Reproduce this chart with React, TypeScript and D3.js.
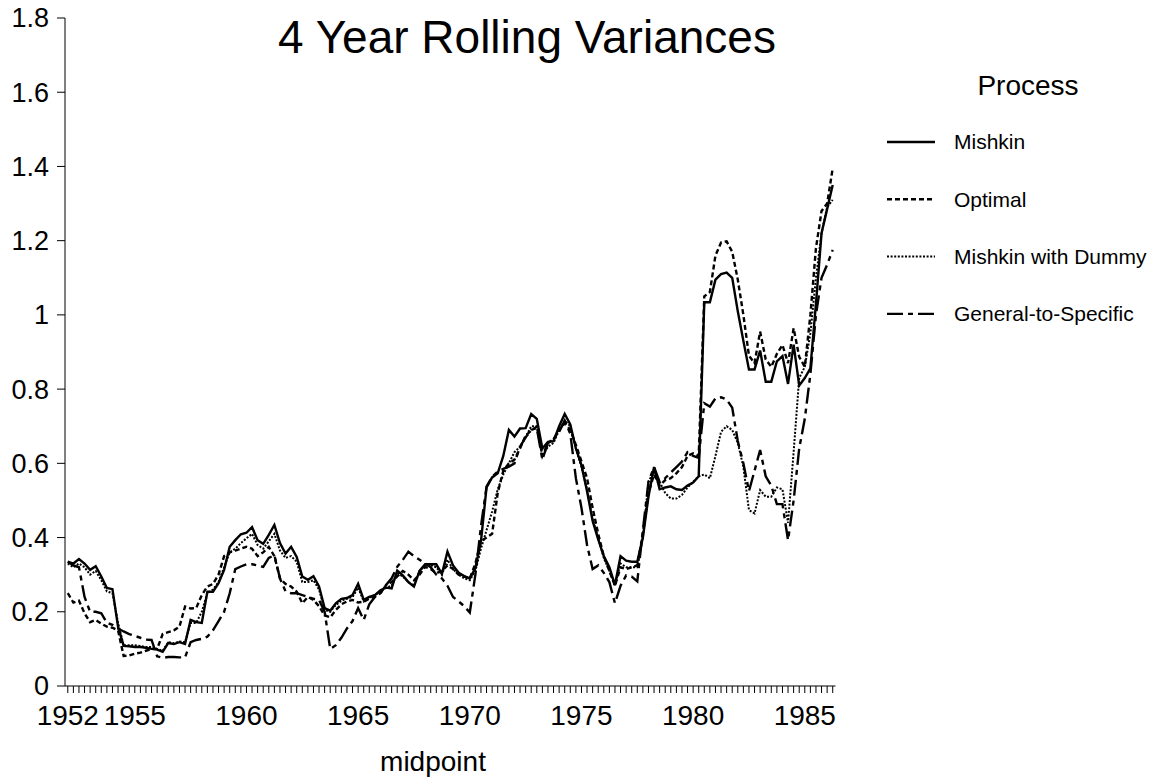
import React from 'react';
import * as d3 from 'd3';

// quarterly midpoints, 1952Q1 .. 1986Q2
const quarters = d3.range(138).map(i => `${1952 + Math.floor(i / 4)}Q${(i % 4) + 1}`);

const tickLabels = ['1952', '1955', '1960', '1965', '1970', '1975', '1980', '1985'];
const tickQuarters = ['1952Q1', '1955Q1', '1960Q1', '1965Q1', '1970Q1', '1975Q1', '1980Q1', '1985Q1'];

const yTicks = [0, 0.2, 0.4, 0.6, 0.8, 1, 1.2, 1.4, 1.6, 1.8];

const mishkin = [
  0.335, 0.33, 0.342, 0.33, 0.313, 0.323, 0.295, 0.264, 0.261, 0.16,
  0.108, 0.107, 0.105, 0.105, 0.103, 0.1, 0.098, 0.092, 0.116, 0.113,
  0.118, 0.113, 0.178, 0.172, 0.17, 0.254, 0.254, 0.277, 0.313, 0.375,
  0.393, 0.409, 0.413, 0.428, 0.393, 0.383, 0.407, 0.434, 0.385, 0.357,
  0.375, 0.348, 0.295, 0.286, 0.296, 0.268, 0.21, 0.203, 0.223, 0.235,
  0.237, 0.245, 0.275, 0.232, 0.24, 0.245, 0.258, 0.265, 0.263, 0.311,
  0.298, 0.28, 0.268, 0.31, 0.328, 0.328, 0.328, 0.302, 0.362, 0.325,
  0.305, 0.296, 0.29, 0.318, 0.39, 0.535, 0.562, 0.573, 0.62, 0.69,
  0.672, 0.694, 0.695, 0.733, 0.72, 0.64, 0.658, 0.66, 0.7, 0.733,
  0.705, 0.64, 0.595, 0.525, 0.445, 0.395, 0.35, 0.32, 0.272, 0.35,
  0.338, 0.335, 0.335, 0.4, 0.51, 0.59, 0.53, 0.535, 0.538, 0.53,
  0.528, 0.54, 0.548, 0.565, 1.034, 1.034, 1.095, 1.11, 1.114, 1.1,
  1.01, 0.93, 0.853, 0.853, 0.904, 0.82, 0.82, 0.875, 0.889, 0.814,
  0.92, 0.81, 0.83, 0.856, 1.03, 1.22, 1.285, 1.35
];

const optimal = [
  0.25, 0.225, 0.23, 0.196, 0.172, 0.178, 0.168, 0.16, 0.157, 0.15,
  0.081, 0.082, 0.087, 0.09, 0.095, 0.1, 0.1, 0.14, 0.145, 0.15,
  0.16, 0.214, 0.209, 0.21, 0.245, 0.268, 0.275, 0.3, 0.35, 0.36,
  0.365, 0.37, 0.375, 0.37, 0.35, 0.36, 0.375, 0.35, 0.29, 0.275,
  0.268, 0.254, 0.223, 0.24, 0.232, 0.215, 0.19, 0.185, 0.205, 0.22,
  0.228, 0.232, 0.225, 0.227, 0.235, 0.241, 0.25, 0.272, 0.28, 0.295,
  0.31, 0.3, 0.285, 0.3, 0.321, 0.315, 0.304, 0.31, 0.325, 0.315,
  0.3, 0.295, 0.29, 0.33, 0.39, 0.4, 0.41, 0.52, 0.58, 0.6,
  0.61, 0.64, 0.675, 0.688, 0.699, 0.62, 0.655, 0.665, 0.69, 0.708,
  0.69, 0.65, 0.605, 0.56, 0.48, 0.41, 0.35, 0.31, 0.27, 0.32,
  0.315, 0.32, 0.325, 0.41, 0.52, 0.57, 0.54, 0.555, 0.56, 0.573,
  0.59, 0.62, 0.627, 0.62, 1.05, 1.062, 1.16, 1.195, 1.198, 1.17,
  1.095, 1.0, 0.89, 0.87, 0.955, 0.88, 0.86, 0.895, 0.919, 0.87,
  0.964, 0.887, 0.86, 1.0, 1.18, 1.28, 1.3, 1.395
];

const mishkinDummy = [
  0.33, 0.32, 0.33, 0.32, 0.3, 0.31, 0.285, 0.255, 0.25, 0.17,
  0.11, 0.11, 0.11, 0.108, 0.105, 0.105, 0.1, 0.095, 0.118, 0.115,
  0.12, 0.118, 0.17, 0.17, 0.2, 0.25, 0.26, 0.28, 0.32, 0.36,
  0.37, 0.385, 0.398, 0.41, 0.38, 0.37, 0.39, 0.41, 0.365, 0.345,
  0.35, 0.335, 0.28, 0.28, 0.285, 0.26, 0.205, 0.2, 0.218, 0.23,
  0.235, 0.24, 0.265, 0.228, 0.238, 0.245, 0.255, 0.265, 0.27, 0.305,
  0.295, 0.28, 0.27, 0.31, 0.325, 0.325, 0.32, 0.3, 0.34, 0.315,
  0.3, 0.29, 0.285, 0.31, 0.37, 0.42, 0.47, 0.53, 0.57, 0.6,
  0.63, 0.645, 0.67, 0.7, 0.7, 0.62, 0.645, 0.655, 0.69, 0.715,
  0.7, 0.64, 0.59, 0.53, 0.45, 0.4, 0.345, 0.31, 0.27, 0.33,
  0.32, 0.32, 0.32, 0.4, 0.55, 0.58, 0.55, 0.52, 0.505, 0.505,
  0.515, 0.535, 0.55, 0.565, 0.57, 0.56, 0.62, 0.685, 0.7, 0.69,
  0.655, 0.59, 0.474, 0.465, 0.528, 0.51, 0.51, 0.535, 0.53, 0.44,
  0.63, 0.83, 0.86, 0.95, 1.1, 1.22, 1.29, 1.31
];

const generalToSpecific = [
  0.335, 0.325, 0.32, 0.24, 0.2, 0.2, 0.196, 0.17, 0.165, 0.155,
  0.147, 0.14, 0.135, 0.13, 0.125, 0.124, 0.08, 0.076, 0.078, 0.078,
  0.077, 0.077, 0.118, 0.124, 0.127, 0.133, 0.15, 0.175, 0.2, 0.25,
  0.315, 0.322, 0.328, 0.328, 0.325, 0.321, 0.345, 0.353, 0.29, 0.255,
  0.25, 0.25, 0.245, 0.24, 0.235, 0.232, 0.2, 0.1, 0.11, 0.13,
  0.155, 0.175, 0.21, 0.178, 0.22, 0.24, 0.25, 0.272, 0.29, 0.321,
  0.34, 0.362, 0.35, 0.34, 0.33, 0.32, 0.3, 0.29, 0.27, 0.24,
  0.228, 0.215, 0.198, 0.3, 0.43, 0.537, 0.564, 0.578, 0.585, 0.591,
  0.6, 0.645, 0.67, 0.69, 0.695, 0.61, 0.655, 0.665, 0.685, 0.715,
  0.68, 0.56, 0.48, 0.38, 0.315, 0.325, 0.305, 0.28, 0.223, 0.27,
  0.298, 0.295, 0.282, 0.42, 0.55, 0.59, 0.55, 0.56, 0.575, 0.59,
  0.605, 0.63, 0.62, 0.615, 0.762, 0.753, 0.775, 0.778, 0.772, 0.75,
  0.66, 0.6, 0.525, 0.58, 0.636, 0.565, 0.54, 0.49, 0.49, 0.393,
  0.5, 0.64, 0.72, 0.84, 1.0, 1.1, 1.135, 1.175
];

const seriesNames = ['Mishkin', 'Optimal', 'Mishkin with Dummy', 'General-to-Specific'];
const seriesValues = [mishkin, optimal, mishkinDummy, generalToSpecific];
const seriesDash = [null, '5,3', '2,1.6', '16,5,5,5'];
const seriesWidth = [2.4, 2.4, 2, 2.4];

const FONT = 'Liberation Sans, Arial, Helvetica, sans-serif';

export default function App() {
  const width = 1162;
  const height = 783;
  const left = 65;
  const right = 835.5;
  const top = 18;
  const bottom = 686;

  const x = d3.scalePoint<string>().domain(quarters).range([left, right]).padding(0.5);
  const y = d3.scaleLinear().domain([0, 1.8]).range([bottom, top]);

  const line = d3.line<number>()
    .x((d, i) => x(quarters[i]) as number)
    .y(d => y(d));

  return (
    <svg width={width} height={height} style={{ position: 'absolute', left: 0, top: 0, background: '#fff' }}
      fontFamily={FONT}>
      <text x={527} y={53} textAnchor="middle" fontSize={46}>4 Year Rolling Variances</text>

      {/* y axis */}
      <line x1={left} x2={left} y1={top} y2={bottom} stroke="#000" strokeWidth={1} />
      {yTicks.map(t => (
        <g key={t}>
          <line x1={left - 8} x2={left} y1={y(t)} y2={y(t)} stroke="#000" />
          <text x={left - 16} y={y(t)} dy="0.35em" textAnchor="end" fontSize={27}>{d3.format('~g')(t)}</text>
        </g>
      ))}

      {/* x axis */}
      <line x1={left} x2={right} y1={bottom} y2={bottom} stroke="#000" strokeWidth={1} />
      {quarters.map(q => (
        <line key={q} x1={x(q)} x2={x(q)} y1={bottom} y2={bottom + 7} stroke="#000" strokeWidth={1} />
      ))}
      {tickQuarters.map((q, i) => (
        <text key={q} x={x(q)} y={bottom + 39} textAnchor="middle" fontSize={28}>{tickLabels[i]}</text>
      ))}
      <text x={433} y={771} textAnchor="middle" fontSize={28}>midpoint</text>

      {/* series */}
      {seriesValues.map((vals, i) => (
        <path key={seriesNames[i]} d={line(vals) || ''} fill="none" stroke="#000"
          strokeWidth={seriesWidth[i]} strokeDasharray={seriesDash[i] || undefined} />
      ))}

      {/* legend */}
      <text x={1028} y={95} textAnchor="middle" fontSize={28}>Process</text>
      {seriesNames.map((name, i) => {
        const ly = 142 + i * 57.3;
        return (
          <g key={name}>
            <line x1={887} x2={935} y1={ly} y2={ly} stroke="#000" strokeWidth={seriesWidth[i]}
              strokeDasharray={seriesDash[i] || undefined} />
            <text x={954} y={ly} dy="0.35em" fontSize={21}>{name}</text>
          </g>
        );
      })}
    </svg>
  );
}
